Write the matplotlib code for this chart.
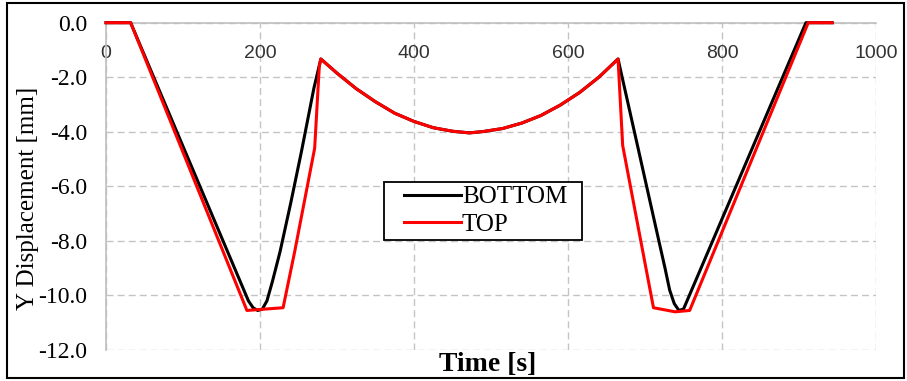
import matplotlib
matplotlib.use("Agg")
import matplotlib.pyplot as plt
from matplotlib.patches import Rectangle
from matplotlib.legend_handler import HandlerLine2D

# Vertical displacement of the bottom and top faces over time
time_bottom = [0, 32, 185, 191, 197, 203, 209, 216, 226, 240, 254, 270, 279,
               300, 325, 350, 375, 400, 425, 450, 472, 490, 515, 540, 565,
               590, 615, 640, 665, 691, 718, 726, 732, 738, 744, 750, 909, 943]
disp_bottom = [0.0, 0.0, -10.2, -10.45, -10.55, -10.5, -10.2, -9.5, -8.4, -6.6,
               -4.7, -2.4, -1.33,
               -1.85, -2.42, -2.90, -3.32, -3.62, -3.85, -3.98, -4.04, -3.99,
               -3.88, -3.68, -3.40, -3.02, -2.56, -2.00, -1.33,
               -4.6, -8.0, -9.0, -9.8, -10.3, -10.55, -10.5, 0.0, 0.0]

time_top = [0, 32, 183, 230, 245, 271, 277, 279,
            300, 325, 350, 375, 400, 425, 450, 472, 490, 515, 540, 565,
            590, 615, 640, 665, 671, 711, 739, 758, 912, 943]
disp_top = [0.0, 0.0, -10.55, -10.45, -8.4, -4.6, -1.6, -1.33,
            -1.85, -2.42, -2.90, -3.32, -3.62, -3.85, -3.98, -4.04, -3.99,
            -3.88, -3.68, -3.40, -3.02, -2.56, -2.00, -1.33,
            -4.5, -10.45, -10.6, -10.55, 0.0, 0.0]

x_ticks = [0, 200, 400, 600, 800, 1000]
x_tick_labels = ["0", "200", "400", "600", "800", "1000"]
y_ticks = [0, -2, -4, -6, -8, -10, -12]
y_tick_labels = ["0.0", "-2.0", "-4.0", "-6.0", "-8.0", "-10.0", "-12.0"]

plt.rcParams["axes.unicode_minus"] = False

W, H = 907, 381
fig = plt.figure(figsize=(W / 100, H / 100), dpi=100)
fig.patch.set_facecolor("white")

ax_left, ax_right, ax_top, ax_bottom = 106, 876, 22.7, 350
ax = fig.add_axes([ax_left / W, 1 - ax_bottom / H,
                   (ax_right - ax_left) / W, (ax_bottom - ax_top) / H])

ax.plot(time_bottom, disp_bottom, color="black", lw=2.2, label="BOTTOM",
        clip_on=False, zorder=3)
ax.plot(time_top, disp_top, color="#ff0000", lw=2.2, label="TOP",
        clip_on=False, zorder=4)

ax.set_xlim(0, 1000)
ax.set_ylim(-12, 0)

# horizontal axis sits on y = 0 with its labels hanging just below it
ax.xaxis.set_ticks_position("top")
ax.set_xticks(x_ticks)
ax.set_xticklabels(x_tick_labels, fontfamily="Liberation Sans", fontsize=14,
                   color="#333333")
ax.tick_params(axis="x", length=0, pad=-28)

ax.set_yticks(y_ticks)
ax.set_yticklabels(y_tick_labels, fontfamily="Liberation Serif", fontsize=17,
                   color="black")
ax.tick_params(axis="y", length=0, pad=13.5)

ax.grid(True, color="#c4c4c4", linestyle=(0, (5, 3)), linewidth=1.0)
ax.set_axisbelow(True)

for side in ("right", "bottom"):
    ax.spines[side].set_visible(False)
for side in ("top", "left"):
    ax.spines[side].set_color("#bfbfbf")
    ax.spines[side].set_linewidth(1.2)

ax.set_ylabel("Y Displacement [mm]", fontfamily="Liberation Serif",
              fontsize=18)
ax.yaxis.set_label_coords(-0.087, 0.462)

ax.xaxis.set_label_position("bottom")
ax.set_xlabel("Time [s]", fontfamily="Liberation Serif", fontsize=20,
              fontweight="bold")
ax.xaxis.set_label_coords(0.496, -0.006)

leg_l, leg_r, leg_t, leg_b = 384, 582, 181.7, 240
leg = ax.legend(
    loc="upper left",
    bbox_to_anchor=(leg_l / W, 1 - leg_b / H, (leg_r - leg_l) / W,
                    (leg_b - leg_t) / H),
    bbox_transform=fig.transFigure,
    mode="expand",
    borderaxespad=0,
    borderpad=0.17,
    labelspacing=0.19,
    handlelength=2.9,
    handletextpad=0.04,
    handler_map={plt.Line2D: HandlerLine2D(xpad=0.62)},
    prop={"family": "Liberation Serif", "size": 18},
    frameon=True,
    fancybox=False,
    shadow=False,
)
frame = leg.get_frame()
frame.set_edgecolor("black")
frame.set_linewidth(1.3)
frame.set_facecolor("white")
frame.set_alpha(1.0)

# outer border around the whole chart
fig.patches.append(Rectangle((7 / W, 3 / H), (904 - 7) / W, (378 - 3) / H,
                             transform=fig.transFigure, fill=False,
                             edgecolor="black", linewidth=1.5))

fig.savefig("out.png", dpi=100)
